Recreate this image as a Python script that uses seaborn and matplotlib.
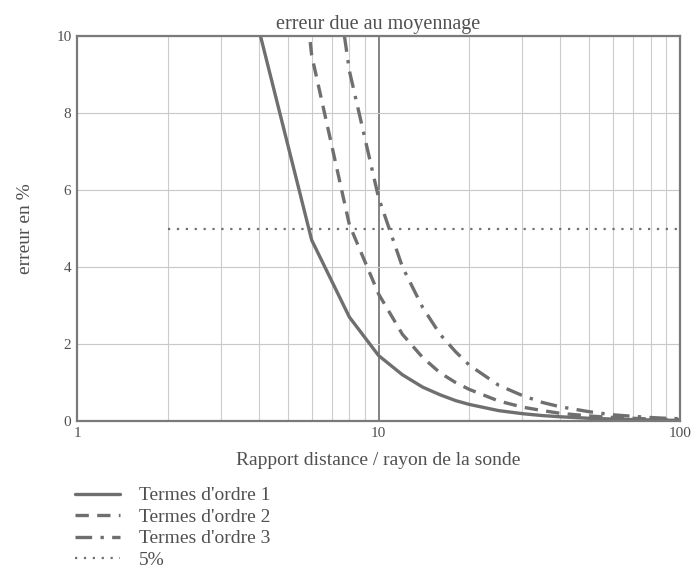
import numpy as np
import pandas as pd
import matplotlib
matplotlib.use("Agg")
import matplotlib.pyplot as plt
import seaborn as sns
from matplotlib.ticker import FixedLocator, NullFormatter

# donnees
rapport = [4, 6, 8, 10, 12, 14, 16, 18, 20, 25, 30, 35, 40, 50, 60, 70, 80, 90, 100]
ordre1 = [10.2, 4.7, 2.7, 1.7, 1.2, 0.88, 0.68, 0.53, 0.43, 0.27, 0.19, 0.14, 0.11, 0.07, 0.05, 0.035, 0.027, 0.021, 0.017]
ordre2 = [22.0, 9.5, 5.1, 3.3, 2.25, 1.65, 1.25, 1.0, 0.82, 0.52, 0.36, 0.27, 0.2, 0.13, 0.09, 0.07, 0.05, 0.04, 0.035]
ordre3 = [36.0, 16.0, 9.1, 5.8, 4.0, 2.95, 2.25, 1.8, 1.45, 0.93, 0.66, 0.48, 0.37, 0.24, 0.16, 0.12, 0.09, 0.07, 0.06]
seuil_x = [2, 100]
seuil_y = [5, 5]

sns.set_style("white")
plt.rcParams["font.family"] = ["Liberation Serif", "DejaVu Serif"]

gris = "#6f6f6f"
texte = "#505050"

fig = plt.figure(figsize=(6.94, 5.72), dpi=100)
ax = fig.add_axes([0.111, 0.264, 0.869, 0.673])

df = pd.DataFrame({"x": rapport, "o1": ordre1, "o2": ordre2, "o3": ordre3})
sns.lineplot(data=df, x="x", y="o1", ax=ax, color=gris, lw=2.4, label="Termes d'ordre 1")
sns.lineplot(data=df, x="x", y="o2", ax=ax, color=gris, lw=2.4, ls=(0, (4, 2.5)), label="Termes d'ordre 2")
sns.lineplot(data=df, x="x", y="o3", ax=ax, color=gris, lw=2.4, ls=(0, (5, 2.5, 1, 2.5)), label="Termes d'ordre 3")
sns.lineplot(x=seuil_x, y=seuil_y, ax=ax, color=gris, lw=1.6, ls=(0, (1, 3)), label="5%")

ax.set_xscale("log")
ax.set_xlim(1, 100)
ax.set_ylim(0, 10)
ax.set_yticks([0, 2, 4, 6, 8, 10])
ax.xaxis.set_major_locator(FixedLocator([1, 10, 100]))
ax.set_xticklabels(["1", "10", "100"])
minors = [m * d for d in (1, 10) for m in range(2, 10)]
ax.xaxis.set_minor_locator(FixedLocator(minors))
ax.xaxis.set_minor_formatter(NullFormatter())

ax.grid(True, which="minor", axis="x", color="#cccccc", lw=0.8)
ax.grid(True, which="major", axis="x", color="#7a7a7a", lw=1.3)
ax.grid(True, which="major", axis="y", color="#c8c8c8", lw=0.8)
ax.set_axisbelow(True)

for s in ax.spines.values():
    s.set_color("#7a7a7a")
    s.set_linewidth(1.6)

ax.tick_params(axis="both", which="both", length=0, labelsize=11, colors=texte, pad=4)

ax.set_title("erreur due au moyennage", fontsize=14.5, color=texte, pad=5)
ax.set_xlabel("Rapport distance / rayon de la sonde", fontsize=14, color=texte, labelpad=9)
ax.set_ylabel("erreur en %", fontsize=14, color=texte, labelpad=16)

h, l = ax.get_legend_handles_labels()
ax.get_legend().remove()
leg = fig.legend(h, l, loc="upper left", bbox_to_anchor=(0.094, 0.166), frameon=False,
                 fontsize=14, handlelength=2.3, labelspacing=0.2, handletextpad=1.0,
                 borderpad=0)
for t in leg.get_texts():
    t.set_color(texte)

fig.savefig("out.png", dpi=100)
